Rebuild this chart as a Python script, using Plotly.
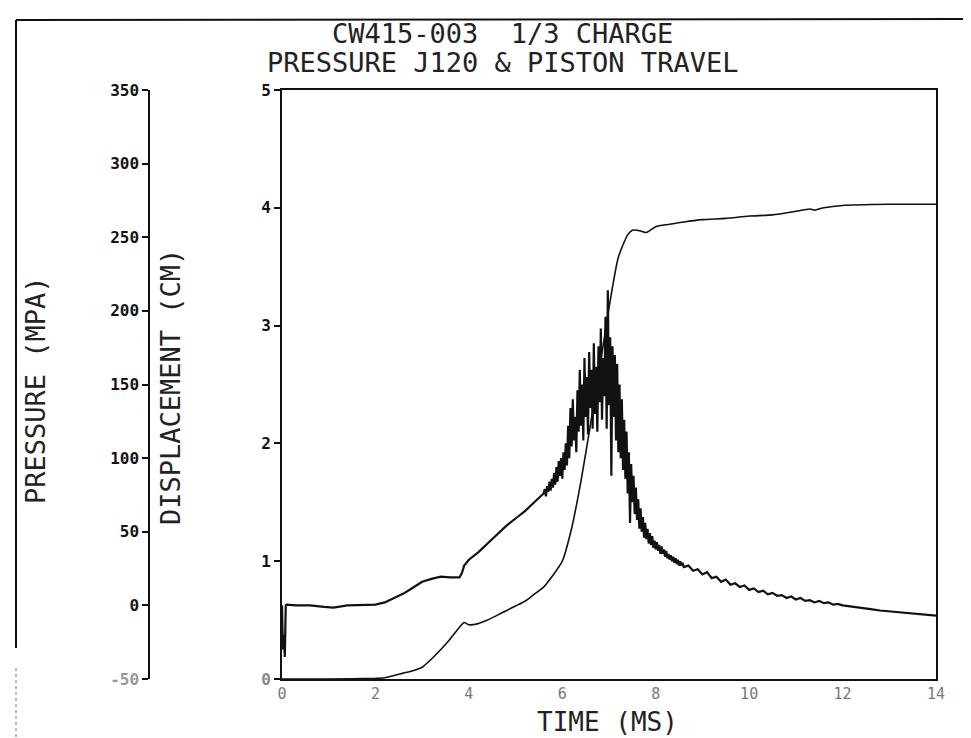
import plotly.graph_objects as go

# ---------------- data ----------------
# Pressure (MPa) vs time (ms)
t_press_start = [0.0, 0.02, 0.04, 0.06, 0.08, 0.1, 0.3, 0.6, 0.9, 1.1, 1.4, 1.7, 2.0, 2.2, 2.4, 2.6, 2.8,
                 3.0, 3.2, 3.4, 3.6, 3.8, 3.85, 3.9, 4.0, 4.2, 4.4, 4.6, 4.8, 5.0, 5.2, 5.4]
p_press_start = [0, -30, -20, -35, 0, 0.5, 0, 0, -1, -1.5, 0, 0, 0.5, 2, 5, 8, 12,
                 16, 18, 19.5, 19, 19, 22, 27, 31, 36, 42, 48, 54, 59, 64, 70]

t_press_noisy = [5.600, 5.625, 5.650, 5.675, 5.700, 5.725, 5.750, 5.775, 5.800, 5.825, 5.850, 5.875,
                 5.900, 5.925, 5.950, 5.975, 6.000, 6.025, 6.050, 6.075, 6.100, 6.125, 6.150, 6.175,
                 6.200, 6.225, 6.250, 6.275, 6.300, 6.325, 6.350, 6.375, 6.400, 6.425, 6.450, 6.475,
                 6.500, 6.525, 6.550, 6.575, 6.600, 6.625, 6.650, 6.675, 6.700, 6.725, 6.750, 6.775,
                 6.800, 6.825, 6.850, 6.875, 6.900, 6.925, 6.950, 6.975, 7.000, 7.025, 7.050, 7.075,
                 7.100, 7.125, 7.150, 7.175, 7.200, 7.225, 7.250, 7.275, 7.300, 7.325, 7.350, 7.375,
                 7.400, 7.425, 7.450, 7.475, 7.500, 7.525, 7.550, 7.575, 7.600, 7.625, 7.650, 7.675,
                 7.700, 7.725, 7.750, 7.775, 7.800, 7.825, 7.850, 7.875, 7.900, 7.925, 7.950, 7.975,
                 8.000, 8.025, 8.050, 8.075, 8.100, 8.125, 8.150, 8.175, 8.200, 8.225, 8.250, 8.275,
                 8.300, 8.325, 8.350, 8.375, 8.400, 8.425, 8.450, 8.475, 8.500, 8.525, 8.550, 8.575]
p_press_noisy = [76, 79, 74, 81, 77, 84, 78, 86, 80, 90, 82, 94,
                 84, 98, 88, 100, 86, 104, 92, 110, 95, 122, 100, 134,
                 108, 140, 112, 128, 104, 146, 118, 160, 122, 150, 112, 168,
                 128, 155, 116, 172, 134, 160, 120, 178, 130, 162, 118, 176,
                 138, 188, 126, 168, 142, 196, 120, 214, 136, 182, 88, 176,
                 128, 170, 112, 164, 104, 150, 100, 140, 92, 126, 86, 118,
                 76, 104, 56, 96, 70, 88, 62, 80, 58, 72, 52, 66,
                 50, 60, 46, 56, 45, 52, 42, 49, 41, 47, 39, 44,
                 38, 43, 37, 41, 35, 40, 35, 38, 33, 37, 32, 35,
                 31, 34, 30, 33, 29, 32, 28, 31, 27, 30, 27, 29]

t_press_tail = [8.6, 8.7, 8.8, 8.9, 9.0, 9.1, 9.2, 9.3, 9.4, 9.5, 9.6, 9.7, 9.8, 9.9, 10.0, 10.1, 10.2,
                10.3, 10.4, 10.5, 10.6, 10.7, 10.8, 10.9, 11.0, 11.1, 11.2, 11.3, 11.4, 11.5, 11.6,
                11.7, 11.8, 11.9, 12.0, 12.2, 12.4, 12.6, 12.8, 13.0, 13.2, 13.4, 13.6, 13.8, 14.0]
p_press_tail = [26, 27, 23.5, 24.5, 21, 22.5, 18.5, 19.5, 16, 17.5, 14, 15, 12.5, 13.5, 10.5, 11.5, 9,
                10, 7.5, 8.5, 6.5, 7, 5, 6, 4, 5, 3, 3.5, 2, 3, 1.5,
                2, 0.5, 1, 0, -0.8, -1.5, -2.5, -3.5, -4, -4.5, -5.2, -6, -6.5, -7]

# Piston travel / displacement (cm) vs time (ms)
t_disp = [0.0, 1.0, 2.0, 2.2, 2.4, 2.6, 2.8, 3.0, 3.2, 3.4, 3.6, 3.8, 3.9, 4.0, 4.2, 4.4, 4.6, 4.8,
          5.0, 5.2, 5.4, 5.6, 5.8, 6.0, 6.2, 6.4, 6.6, 6.8, 7.0, 7.2, 7.4, 7.5, 7.6, 7.7, 7.8, 8.0,
          8.3, 8.6, 9.0, 9.5, 10.0, 10.5, 11.0, 11.3, 11.4, 11.6, 12.0, 13.0, 14.0]
d_disp = [0.0, 0.0, 0.005, 0.01, 0.03, 0.05, 0.07, 0.1, 0.17, 0.25, 0.34, 0.44, 0.48, 0.46, 0.47, 0.5, 0.54, 0.58,
          0.62, 0.66, 0.72, 0.78, 0.88, 1.0, 1.28, 1.68, 2.15, 2.64, 3.15, 3.58, 3.77, 3.81, 3.81, 3.8, 3.79, 3.84,
          3.86, 3.88, 3.9, 3.91, 3.93, 3.94, 3.97, 3.99, 3.98, 4.0, 4.02, 4.03, 4.03]

pressure_ticks = [-50, 0, 50, 100, 150, 200, 250, 300, 350]
disp_ticks = [0, 1, 2, 3, 4, 5]
time_ticks = [0, 2, 4, 6, 8, 10, 12, 14]

t_press = t_press_start + t_press_noisy + t_press_tail
p_press = p_press_start + p_press_noisy + p_press_tail

# ---------------- figure ----------------
W, H = 971, 738
ML, MR, MT, MB = 60, 43, 82, 67
PW = W - ML - MR
PH = H - MT - MB

def px_x(px):
    return (px - ML) / PW

def px_y(py):
    return (H - MB - py) / PH

FONT = "DejaVu Sans Mono"
INK = "#111111"
TXT = "#222222"

fig = go.Figure()
fig.add_trace(go.Scatter(x=t_press, y=p_press, mode="lines", yaxis="y",
                         line=dict(color=INK, width=2.2), showlegend=False))
fig.add_trace(go.Scatter(x=t_disp, y=d_disp, mode="lines", yaxis="y2",
                         line=dict(color=INK, width=1.6, shape="spline", smoothing=0.6),
                         showlegend=False))

p_text = ['<span style="color:#999999">-50</span>'] + [str(v) for v in pressure_ticks[1:]]
d_text = ['<span style="color:#888888">0</span>'] + [str(v) for v in disp_ticks[1:]]

fig.update_layout(
    width=W, height=H,
    margin=dict(l=ML, r=MR, t=MT, b=MB),
    paper_bgcolor="white", plot_bgcolor="white",
    font=dict(family=FONT, color=TXT),
    xaxis=dict(domain=[px_x(274), 1], range=[0, 14], tickvals=time_ticks,
               ticktext=[str(v) for v in time_ticks],
               showline=True, linecolor=INK, linewidth=2, mirror=True,
               showgrid=False, zeroline=False, ticks="",
               tickfont=dict(family=FONT, size=15, color="#777777")),
    yaxis=dict(range=[-50, 350], tickvals=pressure_ticks, ticktext=p_text,
               anchor="free", position=px_x(141), side="left",
               showline=True, linecolor=INK, linewidth=1.5,
               showgrid=False, zeroline=False, ticks="outside", ticklen=6, tickwidth=1.5,
               tickcolor=INK,
               tickfont=dict(family=FONT, size=16, color=INK, weight="bold")),
    yaxis2=dict(range=[0, 5], tickvals=disp_ticks, ticktext=d_text,
                overlaying="y", anchor="x", side="left",
                showline=True, linecolor=INK, linewidth=2, mirror=True,
                showgrid=False, zeroline=False, ticks="outside", ticklen=6, tickwidth=1.5,
                tickcolor=INK,
                tickfont=dict(family=FONT, size=16, color=INK, weight="bold")),
)

ann = [
    dict(text="CW415-003  1/3 CHARGE", x=px_x(494), y=px_y(26), size=27),
    dict(text="PRESSURE J120 & PISTON TRAVEL", x=px_x(494), y=px_y(55), size=27),
    dict(text="TIME (MS)", x=px_x(599), y=px_y(714), size=26),
]
for a in ann:
    fig.add_annotation(text=a["text"], x=a["x"], y=a["y"], xref="paper", yref="paper",
                       showarrow=False, xanchor="center", yanchor="middle",
                       font=dict(family=FONT, size=a["size"], color=TXT))
fig.add_annotation(text="PRESSURE (MPA)", x=px_x(28), y=px_y(382), xref="paper", yref="paper",
                   showarrow=False, textangle=-90, xanchor="center", yanchor="middle",
                   font=dict(family=FONT, size=27, color=TXT))
fig.add_annotation(text="DISPLACEMENT (CM)", x=px_x(162), y=px_y(379), xref="paper", yref="paper",
                   showarrow=False, textangle=-90, xanchor="center", yanchor="middle",
                   font=dict(family=FONT, size=27, color=TXT))

# scanned page frame edges
fig.add_shape(type="line", xref="paper", yref="paper", x0=px_x(8), x1=px_x(971), y0=px_y(12), y1=px_y(11),
              line=dict(color=INK, width=2))
fig.add_shape(type="line", xref="paper", yref="paper", x0=px_x(8), x1=px_x(8), y0=px_y(12), y1=px_y(640),
              line=dict(color=INK, width=2))
fig.add_shape(type="line", xref="paper", yref="paper", x0=px_x(8), x1=px_x(8), y0=px_y(660), y1=px_y(738),
              line=dict(color="#777777", width=1, dash="dot"))
fig.add_shape(type="line", xref="paper", yref="paper", x0=px_x(760), x1=px_x(971), y0=px_y(736), y1=px_y(736),
              line=dict(color=INK, width=2))

fig.write_html("out.html")
